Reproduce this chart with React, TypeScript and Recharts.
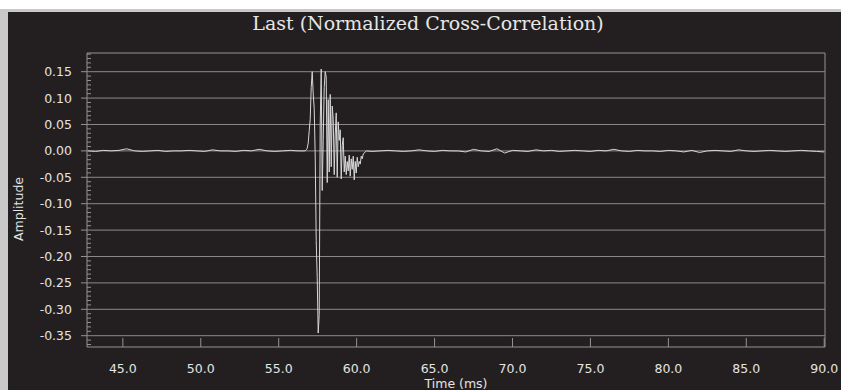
import React from 'react';
import { LineChart, Line, XAxis, YAxis, ReferenceLine, ReferenceArea, Label } from 'recharts';

// Axis ranges (ms / normalized amplitude)
const X_MIN = 42.7;
const X_MAX = 90.05;
const Y_MIN = -0.3714;
const Y_MAX = 0.1854;

const xTicks = [45, 50, 55, 60, 65, 70, 75, 80, 85, 90];
const yMajorTicks = [0.15, 0.1, 0.05, 0, -0.05, -0.1, -0.15, -0.2, -0.25, -0.3, -0.35];
const Y_MINOR_DIVISIONS = 6;

// Quiet stretch before the arrival, sampled every 0.5 ms from 42.75 ms
const PRE_START = 42.75;
const PRE_STEP = 0.5;
const preArrival = [
  0.0, -0.001, 0.001, 0.0, 0.001, 0.004, 0.0, -0.001, 0.0, 0.001,
  -0.001, 0.0, 0.0, 0.001, 0.0, -0.001, 0.002, 0.0, 0.0, -0.001,
  0.001, 0.0, 0.003, 0.0, -0.001, 0.0, 0.001, 0.0,
];

// The correlation burst, sampled every 0.0642 ms from 56.70 ms
const BURST_START = 56.7;
const BURST_STEP = 0.0642;
const burst = [
  0.0, 0.002, 0.005, 0.015, 0.038, 0.06, 0.12, 0.15, 0.108, 0.08,
  -0.01, -0.17, -0.24, -0.345, -0.31, 0.05, 0.155, -0.075, 0.02, 0.12,
  0.15, 0.14, -0.06, 0.097, -0.04, 0.107, -0.03, 0.085, 0.06, -0.045,
  0.03, 0.072, -0.05, 0.055, 0.02, 0.04, -0.053, 0.01, 0.025, -0.04,
  -0.01, -0.045, -0.02, -0.038, -0.008, -0.048, -0.015, -0.035, -0.01, -0.055,
  -0.02, -0.042, -0.012, -0.03, -0.02, -0.025, -0.01, -0.015, -0.006, -0.004,
  -0.002, 0.0,
];

// Quiet stretch after the arrival, sampled every 0.5 ms from 61.0 ms
const POST_START = 61.0;
const POST_STEP = 0.5;
const postArrival = [
  -0.001, 0.0, 0.001, 0.0, -0.001, 0.0, 0.002, 0.0, -0.001, 0.001,
  0.0, 0.0, -0.002, 0.003, 0.0, -0.001, 0.004, -0.004, 0.001, 0.0,
  -0.001, 0.002, 0.0, 0.001, -0.001, 0.0, 0.001, 0.0, -0.001, 0.001,
  0.0, 0.003, 0.0, -0.001, 0.001, 0.0, 0.0, -0.001, 0.001, 0.0,
  -0.002, 0.001, -0.003, 0.0, 0.001, 0.0, -0.001, 0.002, 0.0, -0.001,
  0.0, 0.001, 0.0, -0.001, 0.0, 0.001, 0.0, -0.001, -0.002,
];

const toPoints = (values: number[], start: number, step: number) =>
  values.map((v, i) => ({ t: +(start + i * step).toFixed(4), v }));

const data = [
  ...toPoints(preArrival, PRE_START, PRE_STEP),
  ...toPoints(burst, BURST_START, BURST_STEP),
  ...toPoints(postArrival, POST_START, POST_STEP),
];

// Minor ticks subdivide each 0.05 step of the amplitude axis
const yMinorStep = 0.05 / Y_MINOR_DIVISIONS;
const yTickValues: number[] = [];
for (let k = Math.ceil(Y_MIN / yMinorStep); k <= Math.floor(Y_MAX / yMinorStep); k++) {
  yTickValues.push(+(k * yMinorStep).toFixed(6));
}
const isMajor = (v: number) => yMajorTicks.some((m) => Math.abs(m - v) < 1e-6);

const BG = '#231f20';
const GRID = '#8a8a8a';
const FRAME = '#939393';
const TEXT = '#e4e4e4';
const TRACE = '#d6d6d6';
const FONT = '"DejaVu Sans", sans-serif';
const FONT_SIZE = 12.5;

// x / y arrive at the plot edge because tickSize and tickMargin are 0
const XTick = (props: any) => {
  const { x, y, payload } = props;
  return (
    <g>
      <line x1={x} y1={y} x2={x} y2={y - 9} stroke={FRAME} strokeWidth={1} />
      <text x={x} y={y + 26} textAnchor="middle" fill={TEXT} fontSize={FONT_SIZE} fontFamily={FONT}>
        {Number(payload.value).toFixed(1)}
      </text>
    </g>
  );
};

const YTick = (props: any) => {
  const { x, y, payload } = props;
  const v = Number(payload.value);
  if (!isMajor(v)) {
    return <line x1={x} y1={y} x2={x + 4} y2={y} stroke={FRAME} strokeWidth={1} />;
  }
  const text = Math.abs(v) < 1e-9 ? '0.00' : v.toFixed(2);
  return (
    <g>
      <line x1={x - 6} y1={y} x2={x} y2={y} stroke={FRAME} strokeWidth={1} />
      <text x={x - 15} y={y + 4.5} textAnchor="end" fill={TEXT} fontSize={FONT_SIZE} fontFamily={FONT}>
        {text}
      </text>
    </g>
  );
};

const YTitle = (props: any) => {
  const vb = props.viewBox;
  const cy = vb.y + vb.height / 2 + 9;
  return (
    <text
      transform={`translate(15,${cy}) rotate(-90)`}
      textAnchor="middle"
      fill={TEXT}
      fontSize={FONT_SIZE}
      fontFamily={FONT}
    >
      Amplitude
    </text>
  );
};

const XTitle = (props: any) => {
  const vb = props.viewBox;
  return (
    <text x={vb.x + vb.width / 2} y={vb.y + 41} textAnchor="middle" fill={TEXT} fontSize={FONT_SIZE} fontFamily={FONT}>
      Time (ms)
    </text>
  );
};

export default function App() {
  return (
    <div style={{ position: 'absolute', left: 0, top: 0, width: 841, height: 390, background: '#ffffff', overflow: 'hidden' }}>
      <div style={{ position: 'absolute', left: 0, top: 9, width: 841, height: 381, background: '#c9c9c9' }} />
      <div style={{ position: 'absolute', left: 8, top: 12, width: 833, height: 378, background: BG }}>
        <div
          style={{
            position: 'absolute',
            left: 0,
            top: 2,
            width: 840,
            textAlign: 'center',
            fontFamily: '"DejaVu Serif", serif',
            fontSize: 19,
            lineHeight: '19px',
            color: '#e6e6e6',
            whiteSpace: 'nowrap',
          }}
        >
          Last (Normalized Cross-Correlation)
        </div>
        <LineChart width={833} height={378} data={data} margin={{ top: 41, right: 16, bottom: 0, left: 0 }}>
          <XAxis
            dataKey="t"
            type="number"
            domain={[X_MIN, X_MAX]}
            ticks={xTicks}
            interval={0}
            tick={(p: any) => <XTick {...p} />}
            tickLine={false}
            tickSize={0}
            tickMargin={0}
            axisLine={false}
            height={43}
            allowDataOverflow
          >
            <Label content={(p: any) => <XTitle {...p} />} />
          </XAxis>
          <YAxis
            type="number"
            domain={[Y_MIN, Y_MAX]}
            ticks={yTickValues}
            interval={0}
            tick={(p: any) => <YTick {...p} />}
            tickLine={false}
            tickSize={0}
            tickMargin={0}
            axisLine={false}
            width={79}
            allowDataOverflow
          >
            <Label content={(p: any) => <YTitle {...p} />} />
          </YAxis>
          {yMajorTicks.map((v) => (
            <ReferenceLine key={v} y={v} stroke={GRID} strokeWidth={1} />
          ))}
          <ReferenceArea x1={X_MIN} x2={X_MAX} y1={Y_MIN} y2={Y_MAX} fill="none" stroke={FRAME} strokeWidth={1} />
          <Line
            type="linear"
            dataKey="v"
            stroke={TRACE}
            strokeWidth={1}
            dot={false}
            isAnimationActive={false}
          />
        </LineChart>
      </div>
    </div>
  );
}
